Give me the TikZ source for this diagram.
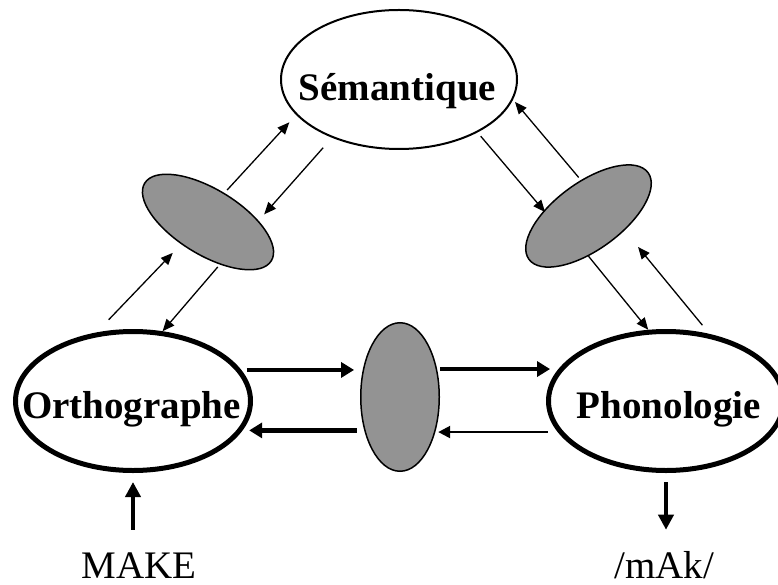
\documentclass[tikz,border=0pt]{standalone}
\usepackage{fontspec}
\setmainfont{Liberation Serif}
\usetikzlibrary{shapes.geometric,arrows.meta,calc}
\definecolor{blobgray}{RGB}{147,147,147}
\begin{document}
\begin{tikzpicture}[x=1pt,y=-1pt,
  big/.style={draw, ellipse, inner sep=0pt, line width=5pt, minimum width=235pt, minimum height=139pt},
  blob/.style={draw, ellipse, inner sep=0pt, line width=1.5pt, fill=blobgray},
  lbl/.style={inner sep=0pt, anchor=base, font=\fontsize{39}{45}\selectfont\bfseries},
  io/.style={inner sep=0pt, anchor=base, font=\fontsize{39}{45}\selectfont},
  tharrow/.style={line width=1.3pt, -{Triangle[length=12pt,width=10pt]}},
  hvarrow/.style={line width=4.5pt, -{Triangle[length=13pt,width=15pt]}},
  medarrow/.style={line width=2.3pt, -{Triangle[length=12pt,width=12pt]}},
  vtarrow/.style={line width=4.5pt, -{Triangle[length=15pt,width=15pt]}}
]
\useasboundingbox (0,0) rectangle (778,585);
\clip (0,0) rectangle (778,585);

% main ellipses
\node[draw, ellipse, inner sep=0pt, line width=2pt, minimum width=236pt, minimum height=139pt] (sem) at (399,79.5) {};
\node[big] (ortho) at (133,401) {};
\node[big] (phono) at (666,401) {};
% grey hidden units
\node[blob, minimum width=78.5pt, minimum height=148.5pt] (mid) at (400,397) {};
\node[blob, minimum width=148.5pt, minimum height=65.3pt, rotate=-31.5] (lft) at (208,222) {};
\node[blob, minimum width=147.3pt, minimum height=67.1pt, rotate=36] (rgt) at (588.5,216) {};

% labels
\node[lbl] (semt) at (397.5,101) {Sémantique};
\node[lbl] (orthot) at (131.5,418) {Orthographe};
\node[lbl] (phonot) at (669,418) {Phonologie};
\node[io] (make) at (139,578) {MAKE};
\node[io] (mak) at (664,578) {/mAk/};

% left side connectors
\draw[tharrow, shorten <=17.5pt, shorten >=12pt] (ortho.118.5) -- (lft.251.5);
\draw[tharrow, shorten <=3.9pt, shorten >=10pt] (lft.92.2) -- (sem.199.5);
\draw[tharrow, shorten <=13.3pt, shorten >=8.5pt] (sem.221.6) -- (lft.33.4);
\draw[tharrow, shorten <=3.1pt] (lft.317.3) -- (ortho.67.5);
% right side connectors
\draw[tharrow, shorten <=4.85pt, shorten >=-2pt] (sem.326.2) -- (rgt.137.7);
\draw[tharrow, shorten <=3.35pt, shorten >=3pt] (rgt.66.7) -- (sem.350.1);
\draw[tharrow] (rgt.234.8) -- (phono.104);
\draw[tharrow, shorten <=11.3pt, shorten >=21.25pt] (phono.57.3) -- (rgt.302.7);
% horizontal connectors
\draw[hvarrow, shorten <=5.5pt, shorten >=9pt] (ortho.16.58) -- (ortho.16.58 -| mid.142.96);
\draw[hvarrow, shorten <=7.3pt, shorten >=7.9pt] (mid.223.64) -- (mid.223.64 -| ortho.344.63);
\draw[hvarrow, shorten <=2.9pt, shorten >=9pt] (mid.37.04) -- (mid.37.04 -| phono.163.42);
\draw[medarrow, shorten <=10pt, shorten >=3.2pt] (phono.196.58) -- (phono.196.58 -| mid.314.26);
% input / output
\draw[vtarrow, shorten <=22.5pt, shorten >=9pt] (make.north -| ortho.south) -- (ortho.south);
\draw[vtarrow, shorten <=9pt, shorten >=21pt] (phono.south) -- (mak.north -| phono.south);
\end{tikzpicture}
\end{document}
